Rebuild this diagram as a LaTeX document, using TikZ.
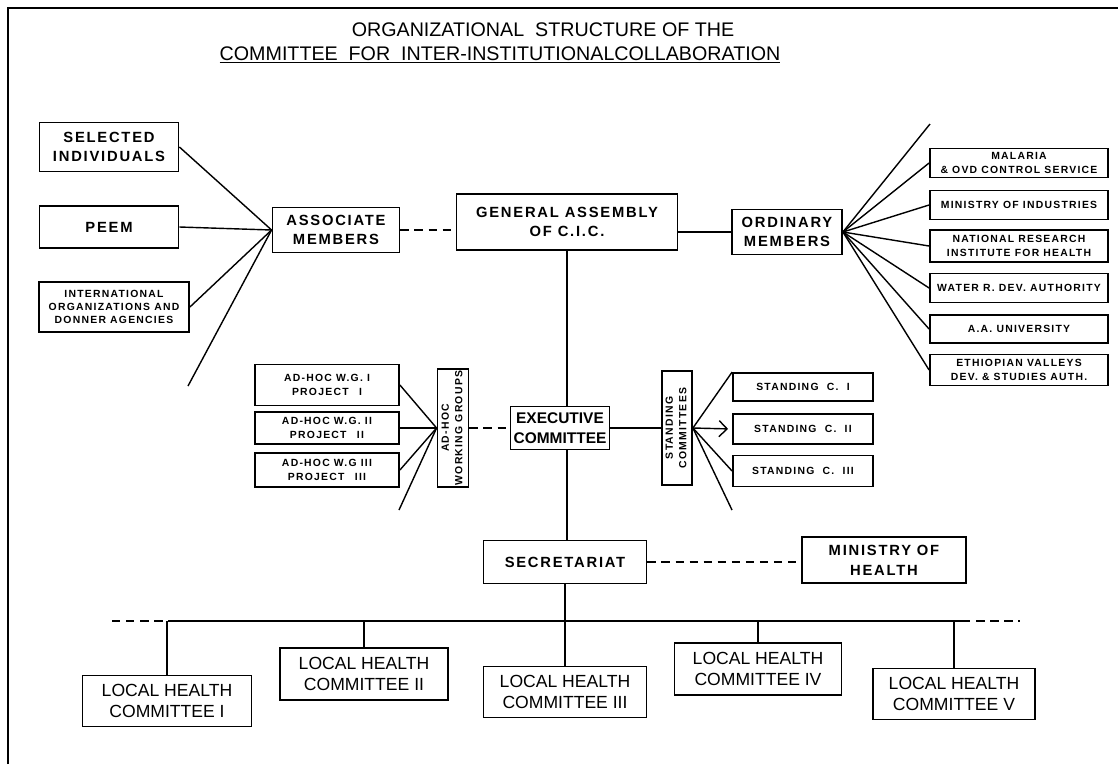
\documentclass[tikz,border=0pt]{standalone}
\usepackage{fontspec}
\usepackage{graphicx}
\setmainfont{Liberation Sans}
\newfontfamily\spacedfont{Liberation Sans}[LetterSpace=12]
\usetikzlibrary{positioning, arrows.meta, calc}

\begin{document}
\begin{tikzpicture}[
    x=0.25mm, y=-0.25mm,
    bigbox/.style={draw, line width=1.3pt, align=center, inner sep=1pt, font=\spacedfont\bfseries\fontsize{10.5}{14}\selectfont},
    smallbox/.style={draw, line width=1.3pt, align=center, inner sep=1pt, font=\spacedfont\bfseries\fontsize{7.4}{9.5}\selectfont},
    localbox/.style={draw, line width=1.3pt, align=center, inner sep=1pt, font=\fontsize{12.5}{15}\selectfont},
    link/.style={line width=1pt},
    dashlink/.style={line width=1pt, dash pattern=on 6pt off 4pt}
]
    \useasboundingbox (0,0) rectangle (1118,764);

    % frame and title
    \draw[line width=1.3pt] (8,764) -- (8,8) -- (1118,8);
    \node[font=\fontsize{14}{16}\selectfont] (title1) at (543,30) {ORGANIZATIONAL\ \ STRUCTURE OF THE};
    \node[font=\fontsize{14}{16}\selectfont] (title2) at (500,55) {\underline{COMMITTEE\ \ FOR\ \ INTER-INSTITUTIONALCOLLABORATION}};

    % --- ASSOCIATE MEMBERS ---
    \node[bigbox, minimum width=34.75mm, minimum height=12.25mm] (selected) at (109,147) {SELECTED\\INDIVIDUALS};
    \node[bigbox, minimum width=34.75mm, minimum height=10.5mm] (peem) at (109,227) {PEEM};
    \node[smallbox, minimum width=37.5mm, minimum height=12.5mm] (intorg) at (114,307) {INTERNATIONAL\\ORGANIZATIONS AND\\DONNER AGENCIES};
    \node[bigbox, minimum width=31.75mm, minimum height=11.25mm] (assoc) at (336,230) {ASSOCIATE\\MEMBERS};
    \coordinate (assocend) at (188,386);

    \foreach \src in {selected, peem, intorg}
        \draw[link] (\src.east) -- (assoc.west);
    \draw[link] (assoc.west) -- (assocend);

    % --- GENERAL ASSEMBLY ---
    \node[bigbox, minimum width=55.25mm, minimum height=14mm] (assembly) at (567,222) {GENERAL ASSEMBLY\\OF C.I.C.};
    \draw[dashlink] (assoc.east) -- (assoc.east -| assembly.west);

    % --- ORDINARY MEMBERS ---
    \node[bigbox, minimum width=27.5mm, minimum height=11.25mm] (ordinary) at (787,232) {ORDINARY\\MEMBERS};
    \draw[link] (ordinary.west -| assembly.east) -- (ordinary.west);

    \node[smallbox, minimum width=44.5mm, minimum height=7.25mm] (malaria) at (1019,163) {MALARIA\\\& OVD CONTROL SERVICE};
    \node[smallbox, minimum width=44.5mm, minimum height=7.25mm] (industry) at (1019,205) {MINISTRY OF INDUSTRIES};
    \node[smallbox, minimum width=44.5mm, minimum height=8mm] (research) at (1019,246) {NATIONAL RESEARCH\\INSTITUTE FOR HEALTH};
    \node[smallbox, minimum width=44.5mm, minimum height=7.25mm] (water) at (1019,288) {WATER R. DEV. AUTHORITY};
    \node[smallbox, minimum width=44.5mm, minimum height=7mm] (university) at (1019,329) {A.A. UNIVERSITY};
    \node[smallbox, minimum width=44.5mm, minimum height=7.75mm] (valleys) at (1019,370) {ETHIOPIAN VALLEYS\\DEV. \& STUDIES AUTH.};
    \coordinate (ordend) at (930,124);

    \foreach \dst in {malaria, industry, research, water, university, valleys}
        \draw[link] (ordinary.east) -- (\dst.west);
    \draw[link] (ordinary.east) -- (ordend);

    % --- EXECUTIVE COMMITTEE ---
    \node[bigbox, font=\bfseries\fontsize{11}{14}\selectfont, minimum width=24.75mm, minimum height=10.75mm] (executive) at (560,428) {EXECUTIVE\\COMMITTEE};
    \draw[link] (assembly.south) -- (assembly.south |- executive.north);

    % ad-hoc working groups
    \node[smallbox, minimum width=36mm, minimum height=10.25mm] (wg1) at (327,385) {AD-HOC\ W.G.\ I\\PROJECT\quad I};
    \node[smallbox, minimum width=36mm, minimum height=8mm] (wg2) at (327,428) {AD-HOC\ W.G.\ II\\PROJECT\quad II};
    \node[smallbox, minimum width=36mm, minimum height=8.5mm] (wg3) at (327,470) {AD-HOC\ W.G\ III\\PROJECT\quad III};
    \node[smallbox, minimum width=7.75mm, minimum height=29.5mm] (adhoc) at (453,428)
        {\rotatebox{90}{\begin{tabular}{@{}c@{}}AD-HOC\\WORKING GROUPS\end{tabular}}};
    \coordinate (adhocend) at (399,510);

    \foreach \src in {wg1, wg2, wg3}
        \draw[link] (\src.east) -- (adhoc.west);
    \draw[link] (adhoc.west) -- (adhocend);
    \draw[dashlink] (adhoc.east) -- (executive.west);

    % standing committees
    \node[smallbox, minimum width=7.5mm, minimum height=28.5mm] (standing) at (677,428)
        {\rotatebox{90}{\begin{tabular}{@{}c@{}}STANDING\\COMMITTEES\end{tabular}}};
    \node[smallbox, minimum width=35mm, minimum height=7mm] (stand1) at (803,387) {STANDING\ \ C.\ \ I};
    \node[smallbox, minimum width=35mm, minimum height=7.5mm] (stand2) at (803,429) {STANDING\ \ C.\ \ II};
    \node[smallbox, minimum width=35mm, minimum height=7.75mm] (stand3) at (803,471) {STANDING\ \ C.\ \ III};
    \coordinate (standend) at (732,510);

    \draw[link] (executive.east) -- (standing.west);
    \draw[link] (standing.east) -- (stand1.north west);
    \draw[link, -{Straight Barb[length=2mm]}, shorten >=1mm] (standing.east) -- (stand2.west);
    \draw[link] (standing.east) -- (stand3.west);
    \draw[link] (standing.east) -- (standend);

    % --- SECRETARIAT ---
    \node[bigbox, minimum width=40.75mm, minimum height=10.75mm] (secretariat) at (565,562) {SECRETARIAT};
    \node[bigbox, minimum width=41mm, minimum height=11.5mm] (health) at (884,560) {MINISTRY OF\\HEALTH};
    \draw[link] (executive.south -| assembly.south) -- (assembly.south |- secretariat.north);
    \draw[dashlink] (secretariat.east) -- (secretariat.east -| health.west);

    % --- LOCAL HEALTH COMMITTEES ---
    \node[localbox, minimum width=42.25mm, minimum height=12.75mm] (local1) at (167,701) {LOCAL HEALTH\\COMMITTEE I};
    \node[localbox, minimum width=42mm, minimum height=13mm] (local2) at (364,674) {LOCAL HEALTH\\COMMITTEE II};
    \node[localbox, minimum width=40.75mm, minimum height=12.75mm] (local3) at (565,692) {LOCAL HEALTH\\COMMITTEE III};
    \node[localbox, minimum width=41.75mm, minimum height=13mm] (local4) at (758,669) {LOCAL HEALTH\\COMMITTEE IV};
    \node[localbox, minimum width=40.5mm, minimum height=12.75mm] (local5) at (954,694) {LOCAL HEALTH\\COMMITTEE V};

    \coordinate (busleft) at (112,621);
    \coordinate (busleftsolid) at (170,621);
    \coordinate (busrightsolid) at (962,621);
    \coordinate (busright) at (1020,621);
    \draw[dashlink] (busleft) -- (busleftsolid);
    \draw[link] (busleftsolid) -- (busrightsolid);
    \draw[dashlink] (busrightsolid) -- (busright);

    \draw[link] (secretariat.south) -- (local3.north);
    \foreach \dst in {local1, local2, local4, local5}
        \draw[link] (\dst.north |- busleft) -- (\dst.north);

\end{tikzpicture}
\end{document}
